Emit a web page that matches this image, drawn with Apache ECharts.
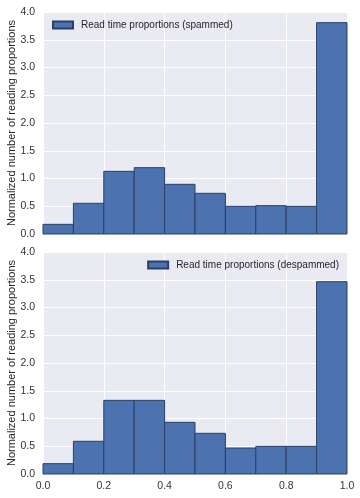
<!DOCTYPE html>
<html><head><meta charset="utf-8">
<script src="https://cdn.jsdelivr.net/npm/echarts@6/dist/echarts.min.js"></script>
<style>html,body{margin:0;padding:0;background:#fff}#c{width:360px;height:498px}</style>
</head><body><div id="c"></div>
<script>
const binEdges = [0.0,0.1,0.2,0.3,0.4,0.5,0.6,0.7,0.8,0.9,1.0];
const spammed = [0.174,0.553,1.129,1.195,0.895,0.733,0.498,0.510,0.498,3.808];
const despammed = [0.186,0.589,1.327,1.327,0.931,0.733,0.468,0.498,0.498,3.465];
const xTicks = [0.0,0.2,0.4,0.6,0.8,1.0];
const yTicks = [0.0,0.5,1.0,1.5,2.0,2.5,3.0,3.5,4.0];
const seriesNames = ['Read time proportions (spammed)','Read time proportions (despammed)'];
const yLabel = 'Normalized number of reading proportions';

const font = 'Arial, "Liberation Sans", sans-serif';
const barColor = '#4C72B0', edge = '#2b3f66';
function rows(vals){ return vals.map((v,i)=>[binEdges[i],binEdges[i+1],v]); }
function renderItem(params, api){
  const p0 = api.coord([api.value(0), api.value(2)]);
  const p1 = api.coord([api.value(1), 0]);
  return {type:'rect', shape:{x:p0[0], y:p0[1], width:p1[0]-p0[0], height:p1[1]-p0[1]},
    style:{fill:barColor, stroke:edge, lineWidth:1}};
}
function xAxis(i, showLabels){
  return {type:'value', gridIndex:i, min:0, max:1, interval:0.2,
    axisLine:{show:false}, axisTick:{show:false},
    axisLabel:{show:showLabels, color:'#333', fontFamily:font, fontSize:10.5, margin:7,
      formatter:v=>v.toFixed(1)},
    splitLine:{show:true, lineStyle:{color:'#fff', width:1}}};
}
function yAxis(i){
  return {type:'value', gridIndex:i, min:0, max:4, interval:0.5,
    axisLine:{show:false}, axisTick:{show:false},
    axisLabel:{color:'#333', fontFamily:font, fontSize:10.5, margin:8, formatter:v=>v.toFixed(1)},
    splitLine:{show:true, lineStyle:{color:'#fff', width:1}},
    name:yLabel, nameLocation:'middle', nameGap:26, nameMoveOverlap:false,
    nameTextStyle:{color:'#262626', fontFamily:font, fontSize:11}};
}
const chart = echarts.init(document.getElementById('c'), null, {renderer:'canvas'});
chart.setOption({
  animation:false,
  backgroundColor:'#fff',
  grid:[
    {left:43, top:12, width:304, height:222, show:true, backgroundColor:'#EAEAF2', borderWidth:0,
      containLabel:false, outerBoundsMode:'none'},
    {left:43, top:252, width:304, height:222, show:true, backgroundColor:'#EAEAF2', borderWidth:0,
      containLabel:false, outerBoundsMode:'none'}
  ],
  xAxis:[xAxis(0,false), xAxis(1,true)],
  yAxis:[yAxis(0), yAxis(1)],
  legend:[
    {data:[seriesNames[0]], left:52, top:20, padding:0, icon:'rect', itemWidth:20, itemHeight:7, itemGap:8,
      textStyle:{color:'#262626', fontFamily:font, fontSize:10, padding:[0,0,0,3]}},
    {data:[seriesNames[1]], right:21, top:260, padding:0, icon:'rect', itemWidth:20, itemHeight:7, itemGap:8,
      textStyle:{color:'#262626', fontFamily:font, fontSize:10, padding:[0,0,0,3]}}
  ],
  series:[
    {type:'custom', name:seriesNames[0], xAxisIndex:0, yAxisIndex:0, renderItem,
      itemStyle:{color:barColor, borderColor:edge, borderWidth:1},
      encode:{x:[0,1], y:2}, data:rows(spammed)},
    {type:'custom', name:seriesNames[1], xAxisIndex:1, yAxisIndex:1, renderItem,
      itemStyle:{color:barColor, borderColor:edge, borderWidth:1},
      encode:{x:[0,1], y:2}, data:rows(despammed)}
  ]
});
</script></body></html>
